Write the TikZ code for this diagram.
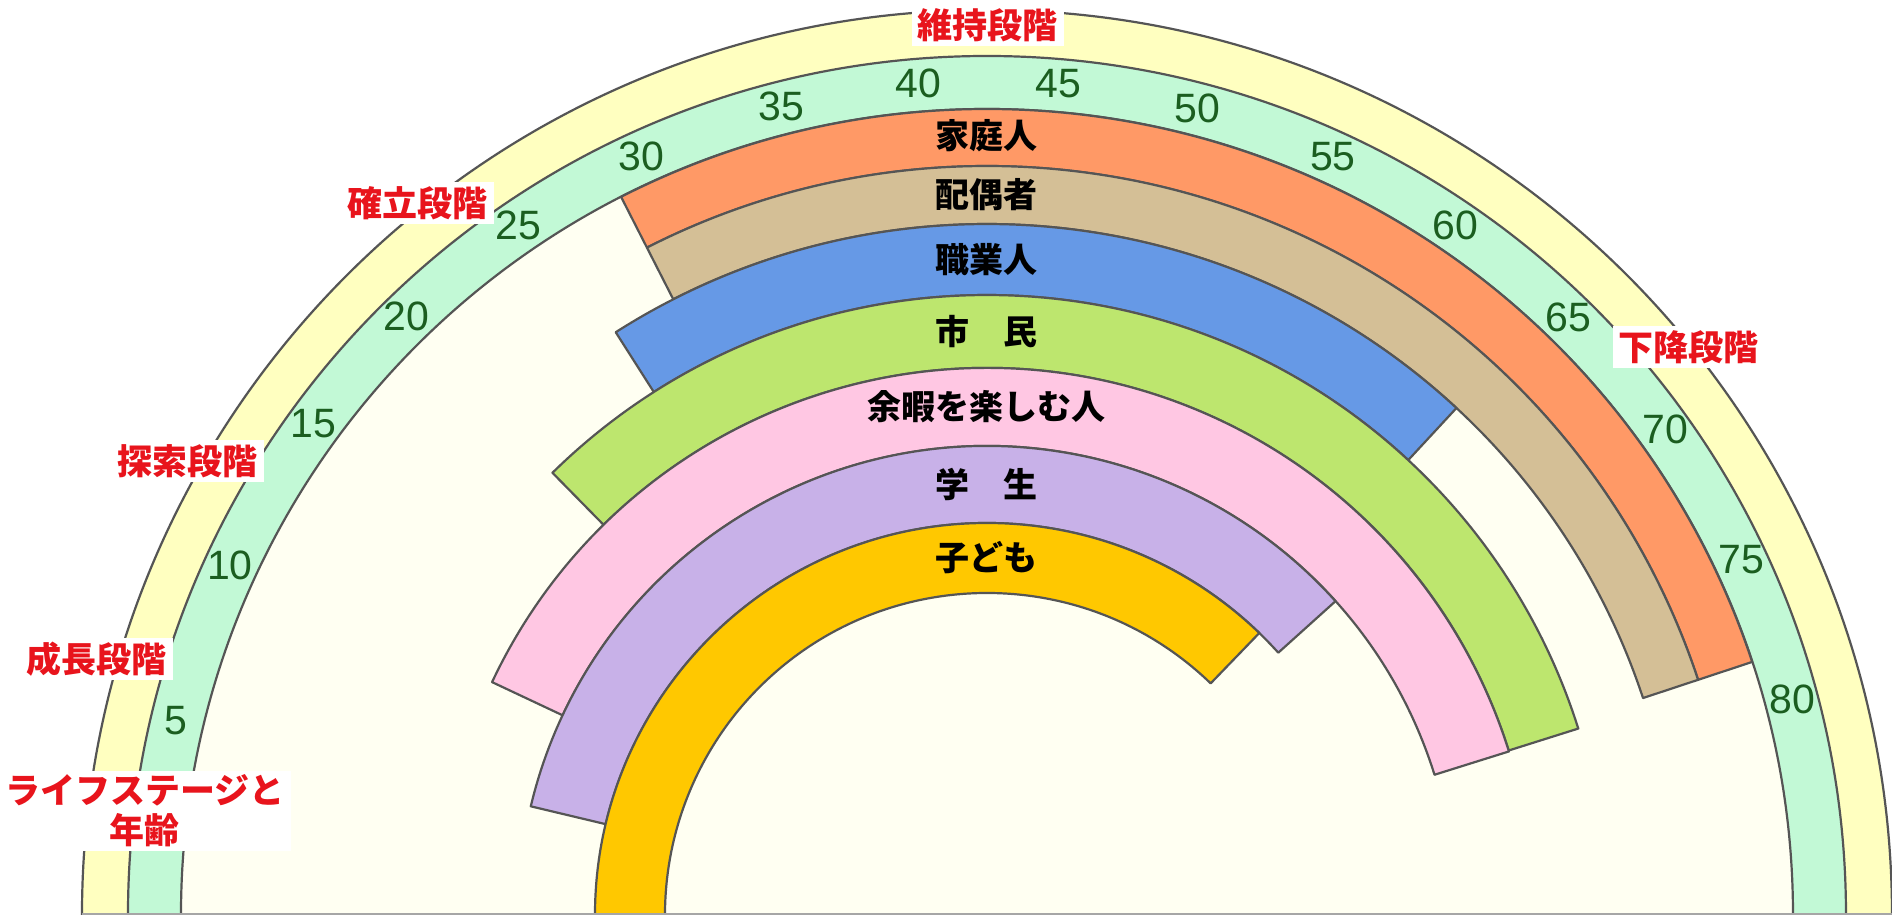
\documentclass[tikz,border=0pt]{standalone}
\usepackage{fontspec}
\newfontfamily\jp{Noto Sans CJK JP}
\newfontfamily\numfont{Liberation Sans}
\definecolor{outyellow}{HTML}{FFFFC0}
\definecolor{mint}{HTML}{C2F9D6}
\definecolor{cream}{HTML}{FFFFF2}
\definecolor{cOrange}{HTML}{FF9966}
\definecolor{cTan}{HTML}{D4BF96}
\definecolor{cBlue}{HTML}{6699E6}
\definecolor{cGreen}{HTML}{BDE66E}
\definecolor{cPink}{HTML}{FFC7E3}
\definecolor{cPurple}{HTML}{C8B1E8}
\definecolor{cGold}{HTML}{FFC800}
\definecolor{lineGray}{HTML}{555555}
\definecolor{numGreen}{HTML}{1B5E20}
\definecolor{redText}{HTML}{E8141C}
\newcommand\rband[5]{%
  \draw[ln, fill=#1] (#2:#5) arc[start angle=#2, end angle=#3, radius=#5]
    -- (#3:#4) arc[start angle=#3, end angle=#2, radius=#4] -- cycle;}
\tikzset{
  ln/.style={draw=lineGray, line width=1.1pt, line join=round},
  numlbl/.style={text=numGreen, font=\numfont\fontsize{20.5}{22}\selectfont, inner sep=0pt},
  bandlbl/.style={text=black, font=\jp\bfseries\fontsize{17}{19}\selectfont, inner sep=0pt},
  stagelbl/.style={text=redText, fill=white, font=\jp\bfseries\fontsize{17.5}{20}\selectfont,
    inner xsep=3pt, inner ysep=2pt, align=center},
}
\begin{document}
\begin{tikzpicture}[x=0.5pt,y=0.5pt]
\useasboundingbox (-987,0) rectangle (905,915);
\fill[white] (-987,0) rectangle (905,915);
% outer rings
\fill[outyellow] (180:905) arc[start angle=180, end angle=0, radius=905] -- cycle;
\fill[mint] (180:859) arc[start angle=180, end angle=0, radius=859] -- cycle;
\fill[cream] (180:806) arc[start angle=180, end angle=0, radius=806] -- cycle;
\draw[ln] (180:905) arc[start angle=180, end angle=0, radius=905];
\draw[ln] (180:859) arc[start angle=180, end angle=0, radius=859];
\draw[ln] (180:806) arc[start angle=180, end angle=0, radius=806];
% role bands
\rband{cOrange}{117}{18.3}{749}{806}
\rband{cTan}{117}{18.3}{691}{749}
\rband{cBlue}{122.5}{47.2}{620}{691}
\rband{cGreen}{134.5}{17.5}{547}{620}
\rband{cPink}{154.8}{17.4}{469}{547}
\rband{cPurple}{166.6}{42}{392}{469}
\rband{cGold}{180}{46}{322}{392}
% baseline
\draw[draw=gray!70, line width=0.8pt] (-905,0.8) -- (905,0.8);
% band labels
\node[bandlbl] (l1) at (0,779) {家庭人};
\node[bandlbl] (l2) at (0,720) {配偶者};
\node[bandlbl] (l3) at (0,655) {職業人};
\node[bandlbl] (l4) at (0,583) {市　民};
\node[bandlbl] (l5) at (0,508) {余暇を楽しむ人};
\node[bandlbl] (l6) at (0,430) {学　生};
\node[bandlbl] (l7) at (0,357) {子ども};
% age numbers
\foreach \a/\t in {5/166.5,10/155.2,15/143.9,20/134.1,25/124.2,30/114.5,35/104.3,40/94.7,
  45/85.1,50/75.4,55/65.5,60/55.8,65/45.8,70/35.6,75/25.2,80/15.0}
  \node[numlbl] (n\a) at (\t:834) {\a};
% stage labels
\node[stagelbl] (s1) at (1,890) {維持段階};
\node[stagelbl] (s2) at (-569,712) {確立段階};
\node[stagelbl] (s3) at (-799,454) {探索段階};
\node[stagelbl] (s4) at (-890,256) {成長段階};
\node[stagelbl] (s5) at (702,568) {下降段階};
\node[stagelbl] (s6) at (-842,104) {ライフステージと\\年齢};
\end{tikzpicture}
\end{document}
